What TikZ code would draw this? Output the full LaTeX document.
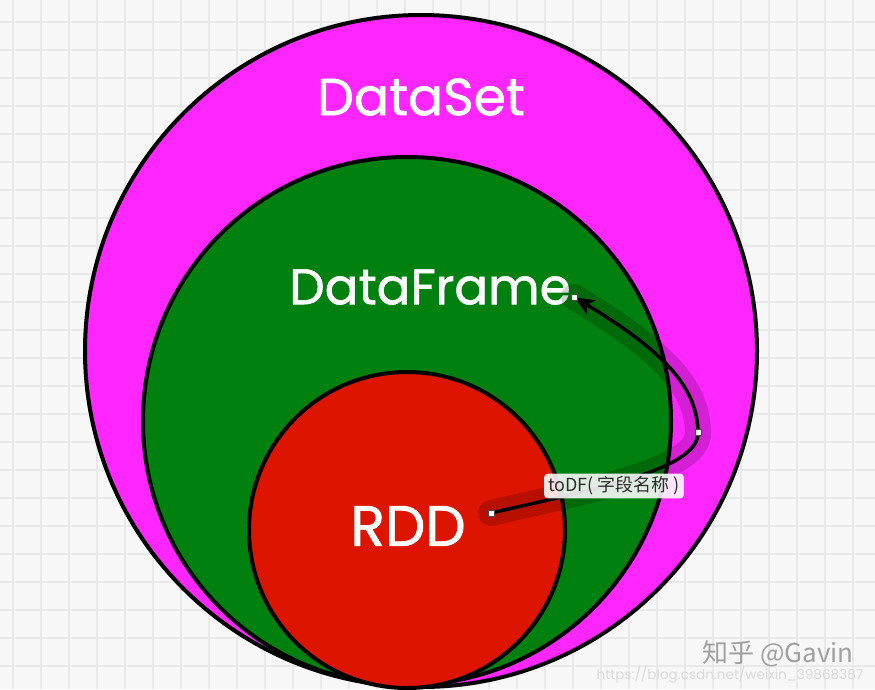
\documentclass[tikz,border=0pt]{standalone}
\usepackage{fontspec}
\setmainfont{Poppins}
\newfontfamily\titlefont{Poppins}[FakeBold=1.2]
\newfontfamily\cjk{Noto Sans CJK SC}
\usetikzlibrary{arrows.meta}
\definecolor{dsmag}{RGB}{255,38,255}
\definecolor{dfgreen}{RGB}{0,128,14}
\definecolor{rddred}{RGB}{221,20,0}
\definecolor{bgc}{RGB}{247,247,247}
\definecolor{gridc}{RGB}{233,233,233}
\definecolor{lbltext}{RGB}{45,45,45}
\definecolor{wmark}{RGB}{160,160,160}
\definecolor{wurl}{RGB}{218,218,218}
\begin{document}
\begin{tikzpicture}[x=1pt,y=-1pt,
  setcircle/.style={circle, draw=black, line width=4pt, inner sep=0pt},
  bigtitle/.style={text=white, font=\titlefont\fontsize{52}{58}\selectfont},
  handle/.style={draw=black!70, fill=white, line width=0.6pt, minimum size=6pt, inner sep=0pt},
  conn/.style={line width=3.5pt, black},
  glow/.style={line width=26pt, black, opacity=0.17, line cap=round},
  lblbox/.style={fill=white, fill opacity=0.88, text opacity=1, text=lbltext, rounded corners=4pt, inner xsep=4pt, inner ysep=3pt, font=\cjk\fontsize{18}{20}\selectfont}
]
\useasboundingbox (0,0) rectangle (875,689);
\fill[bgc] (0,0) rectangle (875,689);
\foreach \i in {0,...,30} \draw[gridc, line width=1.3pt] (13+28*\i,0) -- (13+28*\i,689);
\foreach \i in {0,...,23} \draw[gridc, line width=1.3pt] (0,22+28*\i) -- (875,22+28*\i);

\node[setcircle, fill=dsmag, minimum size=672pt] (dataset) at (421,351) {};
\node[setcircle, fill=dfgreen, minimum size=528pt] (dataframe) at (407,421) {};
\node[setcircle, fill=rddred, minimum size=316pt] (rdd) at (407,530) {};

\node[bigtitle] (tds) at (421,97) {DataSet};
\node[bigtitle, font=\titlefont\fontsize{50}{56}\selectfont] (tdf) at (430,287) {DataFrame};
\node[bigtitle, font=\titlefont\fontsize{57}{62}\selectfont] (trdd) at (408,526) {RDD};

\coordinate (s) at (491,513);
\coordinate (m) at (698,432);
\coordinate (e) at (574,297);

\draw[glow] (s) .. controls (590,490) and (700,470) .. (m) .. controls (697,390) and (670,355) .. (e);
\draw[conn, -{Stealth[length=20pt,width=16pt,inset=5pt]}] (s) .. controls (590,490) and (700,470) .. (m) .. controls (697,390) and (670,355) .. (e);

\node[handle] (hs) at (s) {};
\node[handle] (hm) at (m) {};
\node[handle] (he) at (e) {};

\node[lblbox] (lbl) at (614,486) {toDF( 字段名称 )};

\node[text=wmark, font=\cjk\fontsize{26}{28}\selectfont] (wm) at (778,654) {知乎 @Gavin};
\node[text=wurl, font=\fontsize{13.6}{15}\selectfont] (url) at (730,675) {https://blog.csdn.net/weixin\_39868387};
\end{tikzpicture}
\end{document}
